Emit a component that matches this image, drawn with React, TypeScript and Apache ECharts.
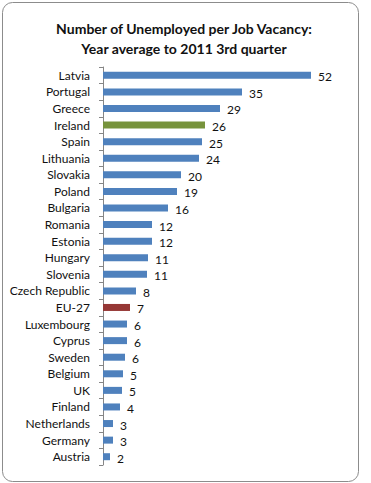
import React, { useEffect, useRef } from "react";
import * as echarts from "echarts";

const categories = [
  "Latvia", "Portugal", "Greece", "Ireland", "Spain", "Lithuania", "Slovakia", "Poland",
  "Bulgaria", "Romania", "Estonia", "Hungary", "Slovenia", "Czech Republic", "EU-27",
  "Luxembourg", "Cyprus", "Sweden", "Belgium", "UK", "Finland", "Netherlands", "Germany", "Austria",
];
const values = [
  52, 34.75, 29.25, 25.5, 24.75, 24, 19.5, 18.5,
  16.25, 12.25, 12.25, 11.25, 11, 8.25, 6.75,
  6, 6, 5.5, 5, 4.75, 4.25, 2.5, 2.5, 1.75,
];
const labels = [
  "52", "35", "29", "26", "25", "24", "20", "19",
  "16", "12", "12", "11", "11", "8", "7",
  "6", "6", "6", "5", "5", "4", "3", "3", "2",
];
const highlight: Record<string, string> = { Ireland: "#77933C", "EU-27": "#953735" };
const titleLines = ["Number of Unemployed per Job Vacancy:", "Year average to 2011 3rd quarter"];

export default function App() {
  const ref = useRef<HTMLDivElement>(null);
  useEffect(() => {
    if (!ref.current) return;
    const chart = echarts.init(ref.current, null, { renderer: "svg" });
    const font = "Lato, 'Open Sans', sans-serif";
    chart.setOption({
      animation: false,
      backgroundColor: "#ffffff",
      graphic: [
        {
          type: "rect",
          shape: { x: 2.5, y: 2.5, width: 356, height: 479, r: 10 },
          style: { fill: "none", stroke: "#8c8c8c", lineWidth: 1 },
          z: -1,
        },
      ],
      title: {
        text: titleLines.join("\n"),
        left: 179,
        textAlign: "center",
        top: 13,
        textStyle: { fontFamily: font, fontSize: 14, fontWeight: "bold", color: "#111", lineHeight: 20 },
      },
      grid: { left: 103, top: 67, width: 240, height: 398, containLabel: false },
      xAxis: {
        type: "value",
        min: 0,
        max: 60,
        show: false,
      },
      yAxis: {
        type: "category",
        inverse: true,
        data: categories,
        axisLine: { show: true, lineStyle: { color: "#868686", width: 1 } },
        axisTick: { show: true, length: 4, lineStyle: { color: "#868686" } },
        axisLabel: { margin: 13, fontFamily: font, fontSize: 12, color: "#111" },
        splitLine: { show: false },
      },
      series: [
        {
          type: "bar",
          barWidth: 7,
          data: values.map((v, i) => ({
            value: v,
            itemStyle: { color: highlight[categories[i]] || "#4F81BD" },
          })),
          label: {
            show: true,
            position: "right",
            distance: 7,
            offset: [0, 1.5],
            fontFamily: font,
            fontSize: 12,
            color: "#111",
            formatter: (p: any) => labels[p.dataIndex],
          },
        },
      ],
    });
    return () => chart.dispose();
  }, []);
  return (
    <div style={{ position: "fixed", left: 0, top: 0, width: 371, height: 483, background: "#fff" }}>
      <div ref={ref} style={{ width: 371, height: 483 }} />
    </div>
  );
}
